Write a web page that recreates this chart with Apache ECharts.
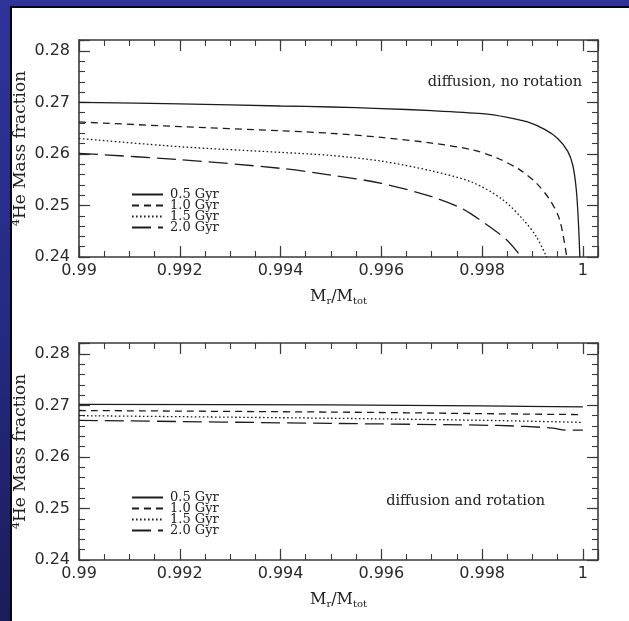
<!DOCTYPE html>
<html>
<head>
<meta charset="utf-8">
<script src="https://cdn.jsdelivr.net/npm/echarts@6/dist/echarts.min.js"></script>
<style>
  html,body{margin:0;padding:0;}
  body{width:629px;height:621px;overflow:hidden;position:relative;
       background:linear-gradient(to bottom,#30339a 0%,#262a84 50%,#1b1c5a 100%);}
  #paper{position:absolute;left:10px;top:6px;right:0;bottom:0;background:#fff;
         border-left:2px solid #05051a;border-top:2px solid #05051a;}
  #c{position:absolute;left:0;top:0;width:629px;height:621px;}
</style>
</head>
<body>
<div id="paper"></div>
<div id="c"></div>
<script>
// ---------- data ----------
const xTickLabels = ['0.99', '0.992', '0.994', '0.996', '0.998', '1'];
const yTickLabels = ['0.24', '0.25', '0.26', '0.27', '0.28'];
const ages = ['0.5 Gyr', '1.0 Gyr', '1.5 Gyr', '2.0 Gyr'];

// upper panel: diffusion, no rotation
const noRot05X = [0.9900, 0.9920, 0.9940, 0.9950, 0.9960, 0.9970, 0.9980, 0.9985, 0.9989, 0.99925, 0.9995, 0.9997, 0.9998, 0.99987, 0.99991, 0.99994];
const noRot05Y = [0.2700, 0.2697, 0.2693, 0.2691, 0.2688, 0.2684, 0.2678, 0.2671, 0.2662, 0.2647, 0.2630, 0.2605, 0.2578, 0.2530, 0.2470, 0.2400];
const noRot10X = [0.9900, 0.9920, 0.9940, 0.9950, 0.9960, 0.9970, 0.9978, 0.9983, 0.99875, 0.99908, 0.99935, 0.99954, 0.99968];
const noRot10Y = [0.2662, 0.2653, 0.2645, 0.2640, 0.2632, 0.2621, 0.2608, 0.2592, 0.2569, 0.2543, 0.2510, 0.2472, 0.2400];
const noRot15X = [0.9900, 0.9920, 0.9940, 0.9950, 0.9960, 0.9970, 0.9978, 0.9984, 0.99882, 0.99908, 0.99928];
const noRot15Y = [0.2630, 0.2614, 0.2603, 0.2597, 0.2586, 0.2567, 0.2545, 0.2512, 0.2472, 0.2439, 0.2400];
const noRot20X = [0.9900, 0.9920, 0.9940, 0.9950, 0.9960, 0.9970, 0.9976, 0.9981, 0.9985, 0.99878];
const noRot20Y = [0.2601, 0.2589, 0.2572, 0.2559, 0.2543, 0.2517, 0.2494, 0.2462, 0.2432, 0.2400];

// lower panel: diffusion and rotation
const rot05X = [0.9900, 0.9950, 0.9980, 1.0000];
const rot05Y = [0.2702, 0.2701, 0.2699, 0.2697];
const rot10X = [0.9900, 0.9950, 0.9980, 1.0000];
const rot10Y = [0.2690, 0.2687, 0.2684, 0.2682];
const rot15X = [0.9900, 0.9950, 0.9980, 1.0000];
const rot15Y = [0.2680, 0.2675, 0.2671, 0.2667];
const rot20X = [0.9900, 0.9950, 0.9983, 0.9994, 0.99965, 1.0000];
const rot20Y = [0.2671, 0.2665, 0.2661, 0.2656, 0.2652, 0.2652];

// ---------- chart ----------
const zip = (xs, ys) => xs.map((x, i) => [x, ys[i]]);
const ink = '#1c1c1c';
const axisInk = '#3a3a3a';
const tickFont = 'DejaVu Sans';
const serif = 'DejaVu Serif';

const dashes = ['solid', [7, 5], [1.6, 2.4], [19, 7]];

function fmtFrom(list) {
  return function (v) {
    for (const s of list) if (Math.abs(Number(s) - v) < 1e-9) return s;
    return '';
  };
}

const X_MIN = 0.99, X_MAX = 1.0003, Y_MIN = 0.24, Y_MAX = 0.2821;

function xAxes(g) {
  const base = {gridIndex: g, type: 'value', min: X_MIN, max: X_MAX, splitLine: {show: false}, scale: true};
  return [
    Object.assign({}, base, {
      position: 'bottom', interval: 0.002,
      axisLine: {show: true, onZero: false, lineStyle: {color: axisInk, width: 1.6}},
      axisTick: {show: true, inside: true, length: 11, lineStyle: {color: axisInk, width: 1.2}},
      axisLabel: {show: true, formatter: fmtFrom(xTickLabels), margin: 6, fontSize: 16,
                  fontFamily: tickFont, color: '#2a2a2a', showMaxLabel: true},
      name: '{n|M}{b|r}{n|/M}{b|tot}', nameLocation: 'middle', nameGap: 30,
      nameMoveOverlap: false,
      nameTextStyle: {fontFamily: serif, color: '#222',
        rich: {n: {fontSize: 16, fontFamily: serif, color: '#222'},
               b: {fontSize: 10, fontFamily: serif, color: '#222', padding: [9, 0, 0, 0]}}}
    }),
    Object.assign({}, base, {
      position: 'bottom', interval: 0.0005,
      axisLine: {show: false, onZero: false},
      axisTick: {show: true, inside: true, length: 6, lineStyle: {color: axisInk, width: 1.1}},
      axisLabel: {show: false}
    }),
    Object.assign({}, base, {
      position: 'top', interval: 0.002,
      axisLine: {show: true, onZero: false, lineStyle: {color: axisInk, width: 1.6}},
      axisTick: {show: true, inside: true, length: 11, lineStyle: {color: axisInk, width: 1.2}},
      axisLabel: {show: false}
    }),
    Object.assign({}, base, {
      position: 'top', interval: 0.0005,
      axisLine: {show: false, onZero: false},
      axisTick: {show: true, inside: true, length: 6, lineStyle: {color: axisInk, width: 1.1}},
      axisLabel: {show: false}
    })
  ];
}

function yAxes(g) {
  const base = {gridIndex: g, type: 'value', min: Y_MIN, max: Y_MAX, splitLine: {show: false}, scale: true};
  return [
    Object.assign({}, base, {
      position: 'left', interval: 0.01,
      axisLine: {show: true, onZero: false, lineStyle: {color: axisInk, width: 1.6}},
      axisTick: {show: true, inside: true, length: 11, lineStyle: {color: axisInk, width: 1.2}},
      axisLabel: {show: true, formatter: fmtFrom(yTickLabels), margin: 9, fontSize: 16,
                  fontFamily: tickFont, color: '#2a2a2a'},
      name: '{s|4}{n|He Mass fraction}', nameLocation: 'middle', nameGap: 48, nameRotate: 90,
      nameMoveOverlap: false,
      nameTextStyle: {fontFamily: serif, color: '#222',
        rich: {n: {fontSize: 17, fontFamily: serif, color: '#222'},
               s: {fontSize: 11, fontFamily: serif, color: '#222', padding: [0, 0, 9, 0]}}}
    }),
    Object.assign({}, base, {
      position: 'left', interval: 0.002,
      axisLine: {show: false, onZero: false},
      axisTick: {show: true, inside: true, length: 6, lineStyle: {color: axisInk, width: 1.1}},
      axisLabel: {show: false}
    }),
    Object.assign({}, base, {
      position: 'right', interval: 0.01,
      axisLine: {show: true, onZero: false, lineStyle: {color: axisInk, width: 1.6}},
      axisTick: {show: true, inside: true, length: 11, lineStyle: {color: axisInk, width: 1.2}},
      axisLabel: {show: false}
    }),
    Object.assign({}, base, {
      position: 'right', interval: 0.002,
      axisLine: {show: false, onZero: false},
      axisTick: {show: true, inside: true, length: 6, lineStyle: {color: axisInk, width: 1.1}},
      axisLabel: {show: false}
    })
  ];
}

const upperData = [zip(noRot05X, noRot05Y), zip(noRot10X, noRot10Y), zip(noRot15X, noRot15Y), zip(noRot20X, noRot20Y)];
const lowerData = [zip(rot05X, rot05Y), zip(rot10X, rot10Y), zip(rot15X, rot15Y), zip(rot20X, rot20Y)];

const series = [];
[upperData, lowerData].forEach((panel, g) => {
  panel.forEach((d, i) => {
    series.push({
      type: 'line', name: ages[i], data: d,
      xAxisIndex: g * 4, yAxisIndex: g * 4,
      showSymbol: false, symbol: 'none', smooth: 0.3,
      lineStyle: {color: ink, width: 1.3, type: dashes[i]},
      itemStyle: {color: ink},
      silent: true, animation: false
    });
  });
});

function legendAt(top) {
  return {
    data: ages, orient: 'vertical', left: 131, top: top,
    itemWidth: 31, itemHeight: 10, itemGap: -2, padding: 0,
    itemStyle: {opacity: 0},
    textStyle: {fontFamily: serif, fontSize: 13, color: '#222', padding: [0, 0, 0, 2]},
    selectedMode: false
  };
}

const chart = echarts.init(document.getElementById('c'), null, {renderer: 'canvas'});
chart.setOption({
  animation: false,
  backgroundColor: 'transparent',
  grid: [
    {left: 79, top: 40, width: 519, height: 217},
    {left: 79, top: 343, width: 519, height: 217}
  ],
  xAxis: xAxes(0).concat(xAxes(1)),
  yAxis: yAxes(0).concat(yAxes(1)),
  legend: [legendAt(188), legendAt(491)],
  series: series,
  graphic: [
    {type: 'text', x: 582, y: 82, silent: true,
     style: {text: 'diffusion, no rotation', fontFamily: serif, fontSize: 14.5, fill: '#222',
             align: 'right', verticalAlign: 'middle'}},
    {type: 'text', x: 545, y: 501, silent: true,
     style: {text: 'diffusion and rotation', fontFamily: serif, fontSize: 14.5, fill: '#222',
             align: 'right', verticalAlign: 'middle'}}
  ]
});
</script>
</body>
</html>
